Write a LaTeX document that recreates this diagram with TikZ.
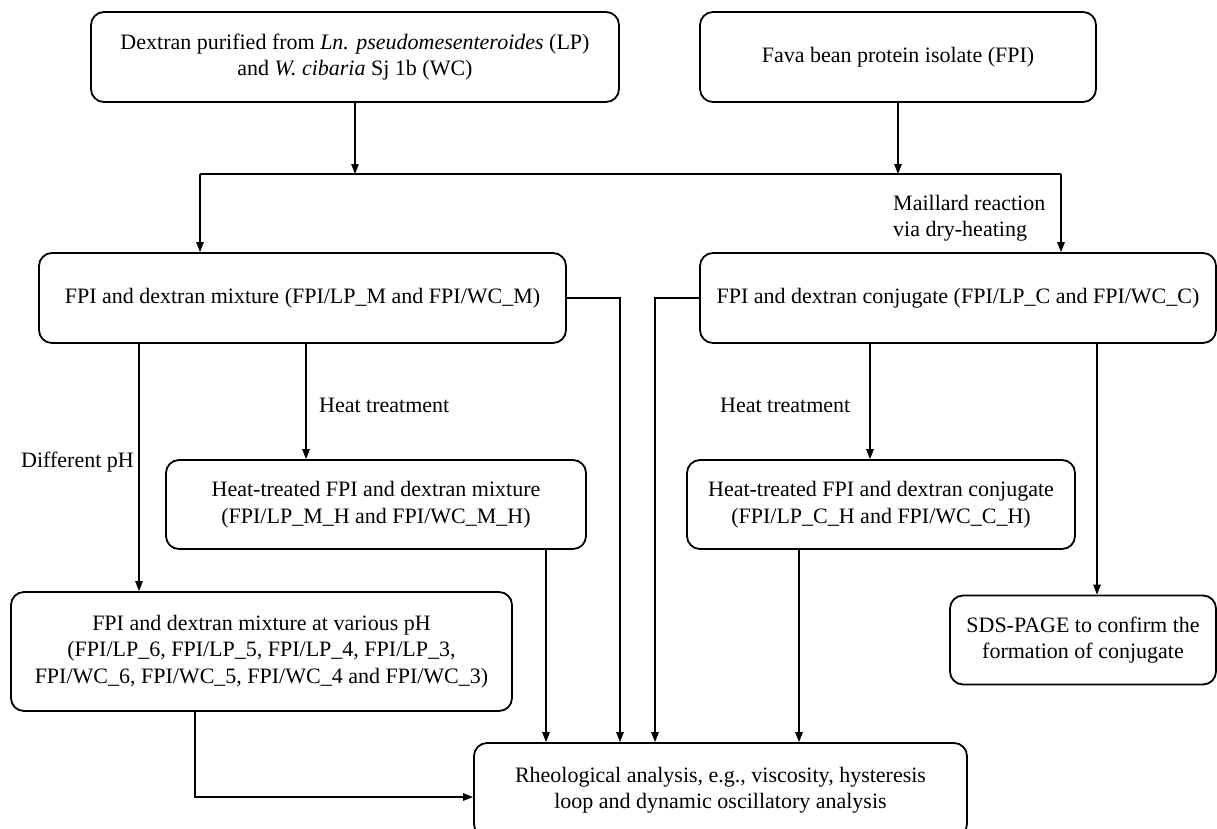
\documentclass[tikz,border=0pt]{standalone}
\usepackage{fontspec}
\setmainfont{Liberation Serif}
\usepackage{tikz}
\usetikzlibrary{arrows.meta}
\usetikzlibrary{backgrounds,positioning}
\pgfdeclarelayer{edgelayer}
\pgfdeclarelayer{nodelayer}
\pgfsetlayers{background,edgelayer,nodelayer,main}
\tikzstyle{none}=[inner sep=0mm]
\tikzstyle{box}=[draw=black,line width=1.8pt,rounded corners=13pt,align=center,inner sep=2pt,font=\fontsize{22}{26.5}\selectfont]
\tikzstyle{lbl}=[inner sep=0mm,align=left,anchor=west,font=\fontsize{22}{26.5}\selectfont]
\tikzstyle{edge}=[line width=1.3pt]
\tikzstyle{diredge}=[edge,-{Triangle[length=10pt,width=7.5pt]}]

\begin{document}
\begin{tikzpicture}[x=1pt,y=-1pt]
	\useasboundingbox (0,0) rectangle (1217,828);
	\begin{pgfonlayer}{nodelayer}
		\node [style=box,minimum width=528pt,minimum height=90pt] (0) at (355, 57) {Dextran purified from \textit{Ln. pseudomesenteroides} (LP)\\and \textit{W. cibaria} Sj 1b (WC)};
		\node [style=box,minimum width=396pt,minimum height=90pt] (1) at (898, 57) {Fava bean protein isolate (FPI)};
		\node [style=box,minimum width=527pt,minimum height=90pt] (2) at (302.5, 298) {FPI and dextran mixture (FPI/LP\_M and FPI/WC\_M)};
		\node [style=box,minimum width=516pt,minimum height=90pt] (3) at (958, 298) {FPI and dextran conjugate (FPI/LP\_C and FPI/WC\_C)};
		\node [style=box,minimum width=420pt,minimum height=89pt] (4) at (376, 504.5) {Heat-treated FPI and dextran mixture\\(FPI/LP\_M\_H and FPI/WC\_M\_H)};
		\node [style=box,minimum width=388pt,minimum height=89pt] (5) at (881, 504.5) {Heat-treated FPI and dextran conjugate\\(FPI/LP\_C\_H and FPI/WC\_C\_H)};
		\node [style=box,minimum width=501pt,minimum height=119pt] (6) at (261.5, 651.5) {FPI and dextran mixture at various pH\\(FPI/LP\_6, FPI/LP\_5, FPI/LP\_4, FPI/LP\_3,\\FPI/WC\_6, FPI/WC\_5, FPI/WC\_4 and FPI/WC\_3)};
		\node [style=box,minimum width=266pt,minimum height=89pt] (7) at (1083, 640) {SDS-PAGE to confirm the\\formation of conjugate};
		\node [style=box,minimum width=493pt,minimum height=94pt] (8) at (720.5, 790) {Rheological analysis, e.g., viscosity, hysteresis\\loop and dynamic oscillatory analysis};
		\node [style=lbl] (9) at (893, 218) {Maillard reaction\\via dry-heating};
		\node [style=lbl] (10) at (21, 462) {Different pH};
		\node [style=lbl] (11) at (319, 405) {Heat treatment};
		\node [style=lbl] (12) at (720, 405) {Heat treatment};
		\node [style=none] (20) at (200, 174) {};
		\node [style=none] (21) at (1061, 174) {};
		\node [style=none] (22) at (620, 298) {};
		\node [style=none] (23) at (655, 298) {};
		\node [style=none] (24) at (139, 343) {};
		\node [style=none] (25) at (306, 343) {};
		\node [style=none] (26) at (546, 549) {};
		\node [style=none] (27) at (870, 343) {};
		\node [style=none] (28) at (799, 549) {};
		\node [style=none] (29) at (1097, 343) {};
		\node [style=none] (30) at (195, 711) {};
		\node [style=none] (31) at (195, 797) {};
	\end{pgfonlayer}
	\begin{pgfonlayer}{edgelayer}
		\draw [style=diredge] (0.south) to (0.south |- 20.center);
		\draw [style=diredge] (1.south) to (1.south |- 21.center);
		\draw [style=edge] (20.center) to (21.center);
		\draw [style=diredge] (20.center) to (20.center |- 2.north);
		\draw [style=diredge] (21.center) to (21.center |- 3.north);
		\draw [style=diredge] (2.east) to (22.center) to (22.center |- 8.north);
		\draw [style=diredge] (3.west) to (23.center) to (23.center |- 8.north);
		\draw [style=diredge] (24.center) to (24.center |- 6.north);
		\draw [style=diredge] (25.center) to (25.center |- 4.north);
		\draw [style=diredge] (26.center) to (26.center |- 8.north);
		\draw [style=diredge] (27.center) to (27.center |- 5.north);
		\draw [style=diredge] (28.center) to (28.center |- 8.north);
		\draw [style=diredge] (29.center) to (29.center |- 7.north);
		\draw [style=diredge] (30.center) to (31.center) to (31.center -| 8.west);
	\end{pgfonlayer}
\end{tikzpicture}
\end{document}
